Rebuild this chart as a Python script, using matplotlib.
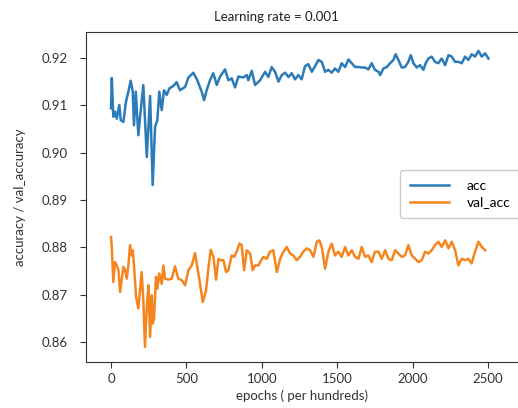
import matplotlib
matplotlib.use("Agg")
import matplotlib.pyplot as plt

plt.rcParams['font.family'] = ['Lato', 'DejaVu Sans']

# training accuracy (epoch, value)
acc_epochs = [0, 5, 15, 27, 38, 55, 64, 82, 99, 115, 130, 144, 152, 164, 181, 197, 214, 237,
              259, 276, 292, 307, 320, 336, 351, 369, 387, 413, 435, 457, 491, 513, 546, 572,
              601, 617, 634, 656, 678, 701, 723, 756, 778, 800, 822, 844, 877, 900, 910, 933,
              955, 988, 1021, 1043, 1065, 1087, 1110, 1132, 1154, 1176, 1198, 1220, 1242, 1264,
              1286, 1308, 1331, 1353, 1375, 1397, 1419, 1441, 1463, 1485, 1507, 1529, 1552,
              1574, 1596, 1618, 1640, 1662, 1684, 1706, 1728, 1750, 1773, 1784, 1806, 1828,
              1850, 1872, 1887, 1905, 1927, 1949, 1971, 1987, 2005, 2027, 2049, 2071, 2086,
              2104, 2126, 2148, 2170, 2192, 2215, 2237, 2259, 2281, 2303, 2325, 2347, 2369,
              2391, 2413, 2436, 2458, 2480, 2502]
acc = [0.9094, 0.9158, 0.9076, 0.9087, 0.9072, 0.9101, 0.9069, 0.9065, 0.9108, 0.9129, 0.9152,
       0.9129, 0.9058, 0.9129, 0.9037, 0.9090, 0.9143, 0.8991, 0.9120, 0.8932, 0.9055, 0.9069,
       0.9129, 0.9090, 0.9132, 0.9122, 0.9136, 0.9141, 0.9149, 0.9132, 0.9139, 0.9159, 0.9169,
       0.9153, 0.9129, 0.9111, 0.9132, 0.9153, 0.9168, 0.9143, 0.9161, 0.9176, 0.9153, 0.9157,
       0.9138, 0.9161, 0.9159, 0.9164, 0.9153, 0.9173, 0.9143, 0.9153, 0.9171, 0.9160, 0.9181,
       0.9171, 0.9150, 0.9164, 0.9169, 0.9160, 0.9168, 0.9155, 0.9164, 0.9155, 0.9183, 0.9187,
       0.9171, 0.9183, 0.9196, 0.9192, 0.9171, 0.9175, 0.9169, 0.9178, 0.9171, 0.9189, 0.9181,
       0.9197, 0.9189, 0.9181, 0.9181, 0.9180, 0.9180, 0.9176, 0.9189, 0.9175, 0.9171, 0.9164,
       0.9178, 0.9181, 0.9189, 0.9196, 0.9208, 0.9196, 0.9180, 0.9181, 0.9192, 0.9206, 0.9189,
       0.9180, 0.9185, 0.9175, 0.9189, 0.9199, 0.9203, 0.9192, 0.9189, 0.9199, 0.9185, 0.9206,
       0.9203, 0.9192, 0.9192, 0.9189, 0.9203, 0.9196, 0.9208, 0.9203, 0.9215, 0.9203, 0.9210,
       0.9199]

# validation accuracy (epoch, value)
val_epochs = [0, 5, 15, 26, 38, 49, 60, 71, 82, 93, 104, 115, 126, 137, 144, 153, 166, 181,
              192, 203, 214, 225, 237, 248, 259, 270, 276, 285, 298, 307, 320, 336, 347, 358,
              380, 402, 424, 446, 469, 491, 513, 535, 557, 572, 590, 608, 630, 645, 661, 679,
              696, 712, 727, 745, 763, 778, 800, 816, 833, 851, 866, 882, 900, 922, 939, 955,
              977, 988, 1010, 1032, 1054, 1076, 1099, 1121, 1143, 1165, 1187, 1209, 1231, 1253,
              1275, 1297, 1320, 1342, 1364, 1381, 1397, 1419, 1441, 1463, 1485, 1507, 1529,
              1552, 1574, 1596, 1618, 1640, 1662, 1684, 1706, 1728, 1750, 1773, 1795, 1817,
              1839, 1861, 1883, 1905, 1927, 1949, 1971, 1994, 2016, 2038, 2060, 2082, 2104,
              2126, 2148, 2170, 2192, 2215, 2237, 2259, 2281, 2303, 2325, 2347, 2369, 2391,
              2413, 2436, 2458, 2480]
val_acc = [0.8822, 0.8801, 0.8727, 0.8769, 0.8762, 0.8752, 0.8706, 0.8734, 0.8759, 0.8752,
           0.8734, 0.8762, 0.8805, 0.8783, 0.8794, 0.8759, 0.8695, 0.8671, 0.8709, 0.8748,
           0.8688, 0.8590, 0.8674, 0.8720, 0.8611, 0.8699, 0.8639, 0.8650, 0.8738, 0.8713,
           0.8745, 0.8723, 0.8762, 0.8734, 0.8732, 0.8734, 0.8760, 0.8734, 0.8731, 0.8720,
           0.8752, 0.8762, 0.8788, 0.8759, 0.8723, 0.8685, 0.8709, 0.8755, 0.8795, 0.8780,
           0.8732, 0.8776, 0.8773, 0.8773, 0.8748, 0.8752, 0.8783, 0.8780, 0.8791, 0.8808,
           0.8805, 0.8752, 0.8794, 0.8787, 0.8752, 0.8762, 0.8762, 0.8769, 0.8780, 0.8776,
           0.8791, 0.8794, 0.8748, 0.8776, 0.8791, 0.8801, 0.8787, 0.8783, 0.8773, 0.8780,
           0.8791, 0.8798, 0.8794, 0.8780, 0.8812, 0.8815, 0.8801, 0.8755, 0.8791, 0.8808,
           0.8783, 0.8791, 0.8780, 0.8801, 0.8783, 0.8794, 0.8780, 0.8776, 0.8801, 0.8780,
           0.8783, 0.8769, 0.8791, 0.8791, 0.8776, 0.8794, 0.8776, 0.8773, 0.8794, 0.8787,
           0.8780, 0.8783, 0.8805, 0.8783, 0.8776, 0.8769, 0.8773, 0.8791, 0.8787, 0.8794,
           0.8805, 0.8812, 0.8801, 0.8815, 0.8798, 0.8812, 0.8794, 0.8762, 0.8776, 0.8773,
           0.8776, 0.8766, 0.8791, 0.8812, 0.8801, 0.8794]

x_ticks = [0, 500, 1000, 1500, 2000, 2500]
y_ticks = [0.86, 0.87, 0.88, 0.89, 0.90, 0.91, 0.92]

fig = plt.figure(figsize=(5.18, 4.08), dpi=100)
ax = fig.add_axes([86 / 518, 1 - 362 / 408, 1 - 86 / 518, (362 - 32) / 408])

ax.plot(acc_epochs, acc, color='#2b7bb9', lw=1.8, label='acc')
ax.plot(val_epochs, val_acc, color='#f5861f', lw=1.8, label='val_acc')

ax.set_xlim(-166, 2698)
ax.set_ylim(0.8558, 0.9255)
ax.set_xticks(x_ticks)
ax.set_yticks(y_ticks)
ax.set_yticklabels([f"{v:.2f}" for v in y_ticks])
ax.tick_params(labelsize=9.5, colors='#333333', length=4)
ax.tick_params(axis='y', pad=9)
ax.tick_params(axis='x', pad=4)
ax.spines['right'].set_visible(False)
for s in ('left', 'top', 'bottom'):
    ax.spines[s].set_color('#333333')

ax.set_xlabel('epochs ( per hundreds)', fontsize=9.5, color='#333333', labelpad=3)
ax.set_ylabel('accuracy / val_accuracy', fontsize=9.5, color='#333333', labelpad=11)
fig.text(276 / 518, 1 - 17 / 408, 'Learning rate = 0.001', ha='center', va='center',
         fontsize=9.5, color='#222222')

ax.legend(loc='upper left', bbox_to_anchor=(0.727, 0.582), borderaxespad=0,
          fontsize=10, handlelength=2.8, handletextpad=1.3, borderpad=0.7,
          labelspacing=0.35, framealpha=1, edgecolor='#cccccc')

fig.savefig('out.png', dpi=100)
